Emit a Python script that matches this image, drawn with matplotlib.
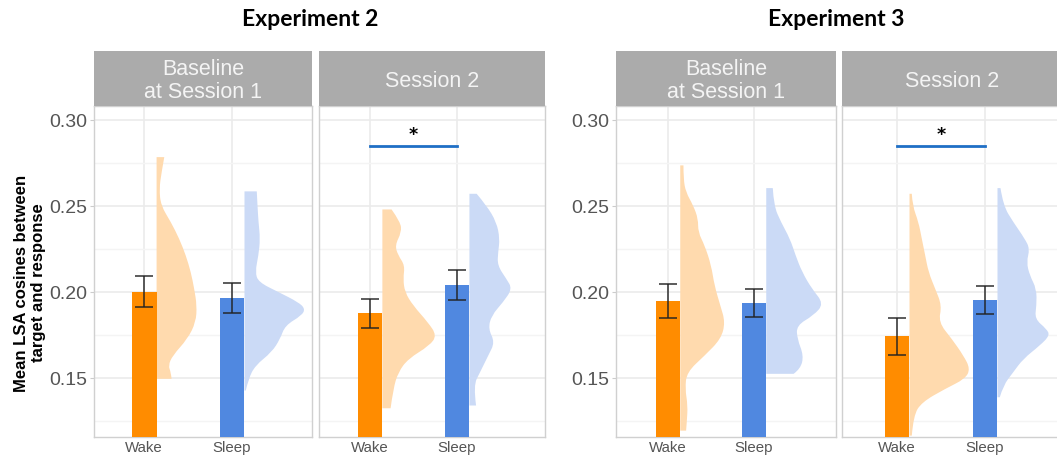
import numpy as np
import matplotlib
matplotlib.use('Agg')
import matplotlib.pyplot as plt
from matplotlib.path import Path
from matplotlib.patches import PathPatch
from matplotlib.ticker import FormatStrFormatter

plt.rcParams['font.family'] = ['Liberation Sans', 'DejaVu Sans']

# conditions and panel names
conds = ['Wake', 'Sleep']
experiments = ['Experiment 2', 'Experiment 3']
sessions = ['Baseline\nat Session 1', 'Session 2']

# mean LSA cosine and standard error per condition
exp2_base_mean = [0.2000, 0.1965]
exp2_base_se = [0.0090, 0.0085]
exp2_s2_mean = [0.1876, 0.2040]
exp2_s2_se = [0.0085, 0.0086]
exp3_base_mean = [0.1946, 0.1935]
exp3_base_se = [0.0099, 0.0081]
exp3_s2_mean = [0.1742, 0.1953]
exp3_s2_se = [0.0108, 0.0084]

# half-violin density outlines (y value, relative width)
e2b_wake_y = [0.2783, 0.2696, 0.2599, 0.2502, 0.2406, 0.2309, 0.2212, 0.2115, 0.2018, 0.1921, 0.1824, 0.1727, 0.1630, 0.1572, 0.1533, 0.1495]
e2b_wake_w = [7.7, 5.0, 2.7, 4.3, 14.3, 22.7, 29.3, 34.3, 37.7, 40.3, 39.3, 31.0, 16.0, 11.7, 14.3, 15.0]
e2b_sleep_y = [0.2584, 0.2502, 0.2406, 0.2309, 0.2212, 0.2115, 0.2057, 0.1999, 0.1940, 0.1902, 0.1863, 0.1805, 0.1727, 0.1650, 0.1572, 0.1495, 0.1427]
e2b_sleep_w = [12.3, 13.0, 14.0, 15.7, 14.0, 10.7, 14.0, 34.0, 54.0, 60.7, 57.3, 40.7, 35.7, 27.3, 10.7, 4.0, 1.3]
e2s_wake_y = [0.2479, 0.2406, 0.2347, 0.2270, 0.2212, 0.2154, 0.2076, 0.1999, 0.1921, 0.1824, 0.1747, 0.1688, 0.1611, 0.1533, 0.1437, 0.1324]
e2s_wake_w = [9.3, 18.3, 19.3, 12.7, 16.0, 22.7, 21.0, 22.7, 31.0, 46.0, 55.0, 47.7, 26.0, 16.0, 11.0, 8.3]
e2s_sleep_y = [0.2570, 0.2502, 0.2406, 0.2309, 0.2231, 0.2154, 0.2076, 0.2018, 0.1940, 0.1863, 0.1785, 0.1708, 0.1630, 0.1533, 0.1456, 0.1340]
e2s_sleep_w = [7.3, 17.3, 27.3, 30.7, 29.0, 28.3, 37.3, 43.3, 34.0, 22.3, 19.0, 25.7, 19.0, 10.7, 4.0, 6.7]
e3b_wake_y = [0.2735, 0.2657, 0.2580, 0.2502, 0.2425, 0.2347, 0.2270, 0.2154, 0.2037, 0.1921, 0.1824, 0.1727, 0.1630, 0.1533, 0.1437, 0.1340, 0.1243, 0.1194]
e3b_wake_w = [3.3, 3.3, 5.7, 13.3, 18.3, 18.3, 25.0, 31.7, 35.0, 41.0, 46.0, 41.7, 25.0, 6.7, 5.0, 7.7, 6.7, 6.0]
e3b_sleep_y = [0.2603, 0.2502, 0.2406, 0.2309, 0.2212, 0.2115, 0.2018, 0.1931, 0.1863, 0.1805, 0.1727, 0.1630, 0.1553, 0.1524]
e3b_sleep_w = [6.7, 7.7, 15.0, 24.3, 30.0, 36.7, 46.7, 59.0, 48.3, 31.0, 31.7, 38.3, 35.0, 28.0]
e3s_wake_y = [0.2570, 0.2502, 0.2406, 0.2309, 0.2212, 0.2115, 0.2018, 0.1921, 0.1824, 0.1727, 0.1630, 0.1553, 0.1495, 0.1437, 0.1359, 0.1282, 0.1165]
e3s_wake_w = [2.3, 3.0, 9.0, 12.3, 15.7, 19.0, 25.7, 32.3, 29.0, 42.3, 54.0, 60.7, 55.7, 35.7, 12.3, 4.0, 2.3]
e3s_sleep_y = [0.2603, 0.2502, 0.2406, 0.2309, 0.2250, 0.2173, 0.2095, 0.2018, 0.1921, 0.1843, 0.1785, 0.1747, 0.1688, 0.1611, 0.1533, 0.1456, 0.1388]
e3s_sleep_w = [3.0, 5.7, 15.7, 27.3, 32.3, 29.0, 32.3, 39.0, 39.0, 37.3, 49.0, 52.3, 42.3, 25.7, 15.7, 5.7, 2.3]

# significance bracket height in Session 2 panels
sig_y = 0.2845

panels = [
    (exp2_base_mean, exp2_base_se, [(e2b_wake_y, e2b_wake_w), (e2b_sleep_y, e2b_sleep_w)], False),
    (exp2_s2_mean, exp2_s2_se, [(e2s_wake_y, e2s_wake_w), (e2s_sleep_y, e2s_sleep_w)], True),
    (exp3_base_mean, exp3_base_se, [(e3b_wake_y, e3b_wake_w), (e3b_sleep_y, e3b_sleep_w)], False),
    (exp3_s2_mean, exp3_s2_se, [(e3s_wake_y, e3s_wake_w), (e3s_sleep_y, e3s_sleep_w)], True),
]

bar_cols = ['#FF8C00', '#5088E0']
vio_cols = ['#FFDAAE', '#CBDAF6']

W, H = 1057, 456
fig = plt.figure(figsize=(W / 100, H / 100), dpi=100)

def box(x0, x1, y0, y1):
    return [x0 / W, 1 - y1 / H, (x1 - x0) / W, (y1 - y0) / H]

def half_violin(ax, left, vy, vw, color):
    # outline drawn as a quadratic spline through the profile points
    px = left + np.array(vw) / 88
    pts = list(zip(px, vy))
    n = len(pts)
    verts = [(left, vy[0]), pts[0]]
    codes = [Path.MOVETO, Path.LINETO]
    for j in range(1, n - 1):
        end = pts[n - 1] if j == n - 2 else ((pts[j][0] + pts[j + 1][0]) / 2, (pts[j][1] + pts[j + 1][1]) / 2)
        verts += [pts[j], end]
        codes += [Path.CURVE3, Path.CURVE3]
    verts += [(left, vy[-1]), (left, vy[0])]
    codes += [Path.LINETO, Path.CLOSEPOLY]
    ax.add_patch(PathPatch(Path(verts, codes), facecolor=color, lw=0, zorder=2))

# pixel extents and x limits of each panel
layout = [(94, 312, 0.43, 2.91), (319, 545, 0.414, 3.01),
          (616, 836, 0.395, 2.953), (842, 1062, 0.375, 2.875)]
bw = 0.284
xs = np.array([1, 2])

for i, (means, ses, vios, sig) in enumerate(panels):
    x0, x1, xl, xr = layout[i]
    ax = fig.add_axes(box(x0, x1, 107, 438))
    ax.set_xlim(xl, xr)
    ax.set_ylim(0.1157, 0.308)

    ax.bar(xs, means, width=bw, color=bar_cols, zorder=3)
    ax.errorbar(xs, means, yerr=ses, fmt='none', ecolor='#222222', alpha=0.8,
                elinewidth=1.3, capsize=6.5, capthick=1.3, zorder=4)
    for k, (vy, vw) in enumerate(vios):
        half_violin(ax, xs[k] + bw / 2, vy, vw, vio_cols[k])

    if sig:
        ax.plot([1, 2], [sig_y, sig_y], color='#1F6FC5', lw=2, zorder=5)
        ax.text(1.5, sig_y + 0.0075, '*', ha='center', va='center', fontsize=12.5,
                fontweight='bold', family='DejaVu Sans')

    # grid
    ax.set_yticks([0.15, 0.20, 0.25, 0.30])
    ax.set_yticks([0.125, 0.175, 0.225, 0.275], minor=True)
    ax.set_xticks(xs)
    ax.set_xticklabels(conds)
    ax.grid(which='major', color='#EBEBEB', lw=1.2, zorder=0)
    ax.grid(which='minor', axis='y', color='#F4F4F4', lw=1.0, zorder=0)
    ax.set_axisbelow(True)
    ax.yaxis.set_major_formatter(FormatStrFormatter('%.2f'))
    ax.tick_params(axis='x', length=0, pad=2, labelsize=10.8, labelcolor='#555555')
    ax.tick_params(axis='y', which='major', length=3, color='#CCCCCC', pad=2,
                   labelsize=14, labelcolor='#555555')
    ax.tick_params(axis='y', which='minor', length=0)
    if i % 2 == 1:
        ax.tick_params(axis='y', which='major', length=0, labelleft=False)
    for s in ax.spines.values():
        s.set_color('#D0D0D0')
        s.set_linewidth(1.0)

    # strip with session label
    sx = fig.add_axes(box(x0, x1, 52, 107))
    sx.set_facecolor('#ABABAB')
    sx.set_xticks([])
    sx.set_yticks([])
    for s in sx.spines.values():
        s.set_visible(False)
    sx.text(0.5, 0.47, sessions[i % 2], transform=sx.transAxes, ha='center', va='center',
            color='#F4F4F4', fontsize=15.5, linespacing=1.15)

# experiment titles
fig.text(310 / W, 1 - 20 / H, experiments[0], ha='center', va='center', fontsize=16.5,
         fontweight='bold', family='Lato')
fig.text(836 / W, 1 - 20 / H, experiments[1], ha='center', va='center', fontsize=16.5,
         fontweight='bold', family='Lato')

# shared y label
fig.text(30 / W, 1 - 283 / H, 'Mean LSA cosines between\ntarget and response', rotation=90,
         ha='center', va='center', fontsize=12, fontweight='bold', linespacing=1.15,
         multialignment='center')

fig.savefig('out.png', dpi=100)
